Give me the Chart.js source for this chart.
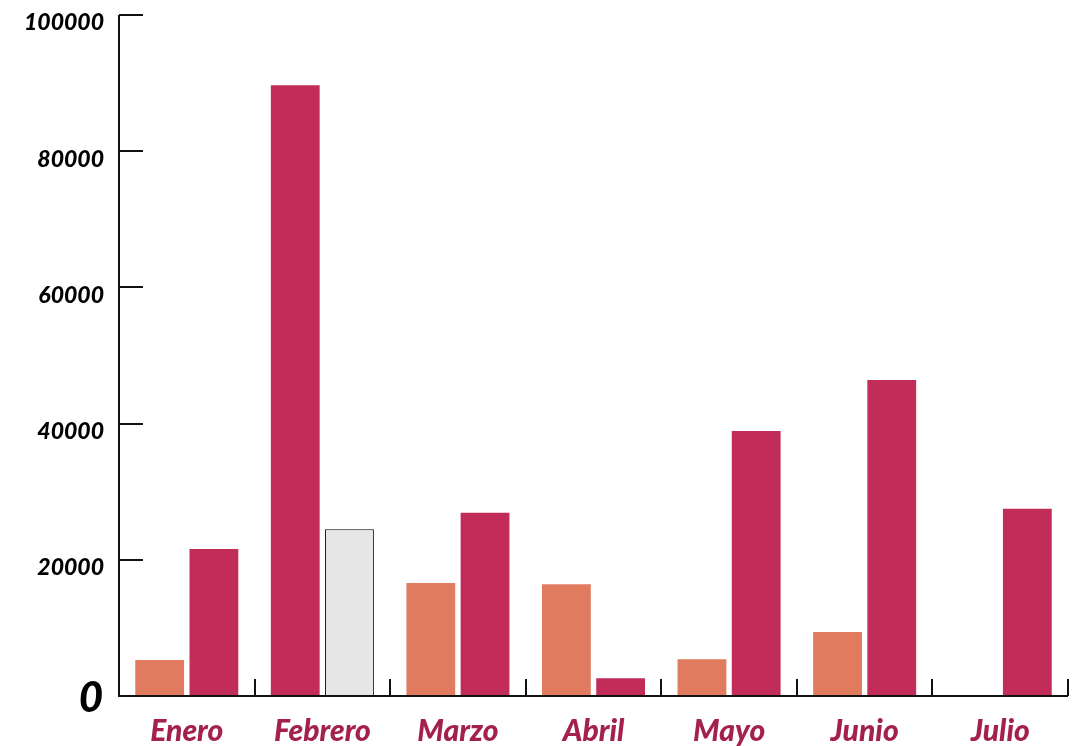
<!DOCTYPE html>
<html>
<head>
<meta charset="utf-8">
<script src="https://cdn.jsdelivr.net/npm/chart.js@4.4.1/dist/chart.umd.min.js"></script>
<style>
html,body{margin:0;padding:0;background:#fff;}
canvas{display:block;}
</style>
</head>
<body>
<canvas id="c" width="1075" height="746"></canvas>
<script>
const categories = ["Enero","Febrero","Marzo","Abril","Mayo","Junio","Julio"];
const seriesA = [5300, 89700, 16600, 16400, 5400, 9400, 0];
const seriesB = [21600, 24500, 26900, 2600, 38900, 46400, 27500];
const yTicks = [0, 20000, 40000, 60000, 80000, 100000];

const ORANGE = "#E07B5F", RED = "#C22C58", GREY = "#E6E6E6";
const colorsA = categories.map((c,i)=> i===1 ? RED : ORANGE);
const colorsB = categories.map((c,i)=> i===1 ? GREY : RED);
const bordersB = categories.map((c,i)=> i===1 ? 1 : 0);

const axisPlugin = {
  id: 'axisPlugin',
  afterDraw(chart){
    const ctx = chart.ctx, ca = chart.chartArea;
    const ys = chart.scales.y;
    ctx.save();
    ctx.strokeStyle = "#111";
    ctx.lineWidth = 2;
    ctx.beginPath();
    ctx.moveTo(ca.left, ys.getPixelForValue(100000));
    ctx.lineTo(ca.left, ys.getPixelForValue(0));
    ctx.lineTo(ca.right, ys.getPixelForValue(0));
    ctx.stroke();
    yTicks.forEach(v=>{
      if(v===0) return;
      const y = Math.round(ys.getPixelForValue(v));
      ctx.beginPath();
      ctx.moveTo(ca.left, y);
      ctx.lineTo(ca.left+24, y);
      ctx.stroke();
    });
    const n = categories.length;
    const y0 = ys.getPixelForValue(0);
    for(let i=1;i<=n;i++){
      const x = Math.round(ca.left + (ca.right-ca.left)*i/n);
      ctx.beginPath();
      ctx.moveTo(x, y0);
      ctx.lineTo(x, y0-17);
      ctx.stroke();
    }
    ctx.fillStyle = "#000";
    ctx.textAlign = "right";
    ctx.textBaseline = "middle";
    yTicks.forEach(v=>{
      const y = ys.getPixelForValue(v);
      if(v===0){
        ctx.font = "italic 900 42px Lato";
        ctx.fillText(String(v), 103, y+2);
      } else {
        ctx.font = "italic 900 23px Lato";
        ctx.fillText(String(v), 104, y+8);
      }
    });
    ctx.restore();
  }
};

new Chart(document.getElementById('c'), {
  type: 'bar',
  data: {
    labels: categories,
    datasets: [
      { data: seriesA, backgroundColor: colorsA, borderWidth: 0 },
      { data: seriesB, backgroundColor: colorsB, borderColor: "#000", borderWidth: bordersB }
    ]
  },
  options: {
    responsive: false,
    animation: false,
    devicePixelRatio: 1,
    layout: { padding: { top: 15, right: 7, left: 0, bottom: 0 } },
    plugins: { legend: { display: false }, tooltip: { enabled: false } },
    scales: {
      x: {
        grid: { display: false },
        border: { display: false },
        ticks: {
          color: "#A3214A",
          font: { family: "Lato", size: 30, style: "italic", weight: "900" },
          padding: 9,
          maxRotation: 0
        },
        afterFit(s){ s.height = 50; }
      },
      y: {
        min: 0, max: 100000,
        grid: { display: false },
        border: { display: false },
        ticks: { display: false, stepSize: 20000 },
        afterFit(s){ s.width = 119; }
      }
    }
  },
  plugins: [axisPlugin]
});
</script>
</body>
</html>
